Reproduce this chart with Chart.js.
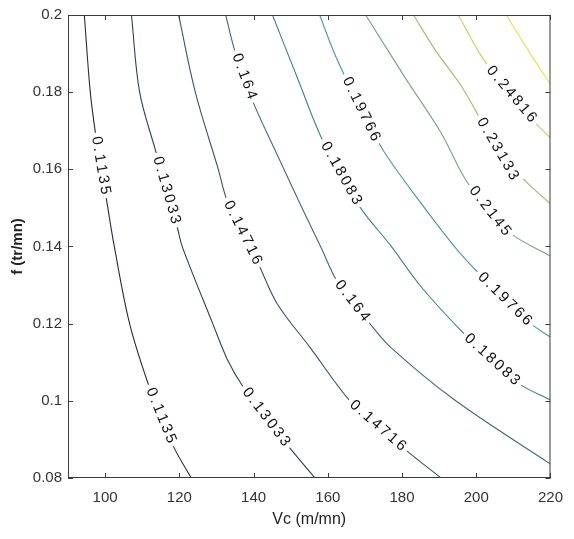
<!DOCTYPE html>
<html>
<head>
<meta charset="utf-8">
<title>Contour Vc - f</title>
<script src="https://cdn.jsdelivr.net/npm/chart.js"></script>
<style>
    html, body { margin: 0; padding: 0; background: #fff; }
</style>
</head>
<body>
<canvas id="contourChart" width="574" height="539"></canvas>
<script>
// contour levels (one line each)
const levels = [0.1135, 0.13033, 0.14716, 0.164, 0.18083, 0.19766, 0.2145, 0.23133, 0.24816, 0.265];

// points: Vc (m/mn)
const contourVc = [
    [94.4, 96.0, 97.4, 98.85, 100.3, 102.4, 106.6, 111.6, 115.05, 118.5, 123.2],
    [107.1, 109.3, 113.7, 116.6, 119.5, 120.8, 129.0, 133.0, 137.2, 143.4, 149.6, 156.5],
    [119.8, 124.3, 130.4, 133.0, 137.1, 141.2, 146.4, 155.1, 166.2, 173.5, 180.7, 190.5],
    [132.5, 134.8, 137.5, 140.1, 146.4, 152.8, 158.3, 162.3, 166.6, 171.0, 176.8, 194.2, 220],
    [145.1, 152.0, 158.3, 163.6, 168.8, 176.8, 185.2, 197.1, 204.3, 211.6, 220],
    [157.8, 162.3, 169.0, 175.0, 184.5, 194.2, 200.8, 207.7, 214.7, 220],
    [170.2, 181.0, 190.5, 197.0, 203.7, 209.5, 220],
    [183.1, 189.1, 196.3, 205.8, 212.4, 220],
    [195.2, 200.5, 204.2, 209.5, 215.5, 220],
    [208.1, 214.2, 220]
];
// same points: f (tr/mn)
const contourF = [
    [0.2, 0.18, 0.1694, 0.161, 0.1526, 0.1404, 0.12, 0.1044, 0.0962, 0.088, 0.08],
    [0.2, 0.18, 0.1645, 0.1546, 0.1448, 0.1399, 0.12, 0.1106, 0.1036, 0.0958, 0.088, 0.08],
    [0.2, 0.18, 0.1603, 0.1515, 0.1436, 0.1357, 0.1251, 0.114, 0.0997, 0.0936, 0.0875, 0.08],
    [0.2, 0.1912, 0.1841, 0.1769, 0.1637, 0.1505, 0.1395, 0.1313, 0.1259, 0.1204, 0.114, 0.1002, 0.0836],
    [0.2, 0.1832, 0.1681, 0.159, 0.15, 0.1404, 0.1295, 0.117, 0.1107, 0.1044, 0.1002],
    [0.2, 0.1889, 0.1756, 0.1648, 0.152, 0.1399, 0.1329, 0.1264, 0.12, 0.1165],
    [0.2, 0.1835, 0.1695, 0.1575, 0.1492, 0.1432, 0.1375],
    [0.2, 0.1907, 0.1811, 0.1653, 0.1578, 0.151],
    [0.2, 0.1907, 0.1855, 0.1795, 0.1725, 0.1681],
    [0.2, 0.1905, 0.182]
];

// inline labels: which line, and where
const labelLine = [0, 0, 1, 1, 2, 2, 3, 3, 4, 4, 5, 5, 6, 7, 8];
const labelVc = [98.85, 115.05, 116.6, 143.4, 137.1, 173.5, 137.5, 166.6, 163.6, 204.3, 169.0, 207.7, 203.7, 205.8, 209.5];
const labelF = [0.161, 0.0962, 0.1546, 0.0958, 0.1436, 0.0936, 0.1841, 0.1259, 0.159, 0.1107, 0.1756, 0.1264, 0.1492, 0.1653, 0.1795];

const xTicks = [100, 120, 140, 160, 180, 200, 220];
const yTicks = [0.08, 0.1, 0.12, 0.14, 0.16, 0.18, 0.2];
const yTickLabels = ['0.08', '0.1', '0.12', '0.14', '0.16', '0.18', '0.2'];

// line colours, dark blue -> yellow
const lineColors = ['#262a40', '#323c56', '#3a5264', '#3e6a7a', '#3b828c', '#4699a0', '#76a48a', '#a6b66a', '#d0ca5a', '#ecdd44'];

const FONT = '"Liberation Sans", Arial, Helvetica, sans-serif';
const labelSpacing = 2.5;

// contour labels with white background, drawn along the line
const contourLabels = {
    id: 'contourLabels',
    afterDatasetsDraw(chart) {
        const ctx = chart.ctx;
        const xs = chart.scales.x, ys = chart.scales.y;
        ctx.save();
        ctx.font = '15px ' + FONT;
        labelLine.forEach((li, k) => {
            const px = xs.getPixelForValue(labelVc[k]);
            const py = ys.getPixelForValue(labelF[k]);
            const pts = contourVc[li].map((v, i) => [xs.getPixelForValue(v), ys.getPixelForValue(contourF[li][i])]);
            // direction of the nearest segment
            let best = Infinity, ang = 0;
            for (let i = 0; i < pts.length - 1; i++) {
                const [x1, y1] = pts[i], [x2, y2] = pts[i + 1];
                const dx = x2 - x1, dy = y2 - y1;
                const t = Math.max(0, Math.min(1, ((px - x1) * dx + (py - y1) * dy) / (dx * dx + dy * dy)));
                const d = Math.hypot(x1 + t * dx - px, y1 + t * dy - py);
                if (d < best) { best = d; ang = Math.atan2(dy, dx); }
            }
            if (ang > Math.PI / 2) ang -= Math.PI;
            if (ang < -Math.PI / 2) ang += Math.PI;

            const chars = String(levels[li]).split('');
            const w = chars.map(c => ctx.measureText(c).width);
            const total = w.reduce((a, b) => a + b, 0) + labelSpacing * (chars.length - 1);
            ctx.save();
            ctx.translate(px, py);
            ctx.rotate(ang);
            ctx.fillStyle = '#fff';
            ctx.fillRect(-total / 2 - 4, -8.5, total + 8, 17);
            ctx.fillStyle = '#111';
            ctx.textBaseline = 'middle';
            ctx.textAlign = 'left';
            let cx = -total / 2;
            chars.forEach((c, i) => { ctx.fillText(c, cx, 0); cx += w[i] + labelSpacing; });
            ctx.restore();
        });
        ctx.restore();
    }
};

// box with inward ticks on all four sides
const axesBox = {
    id: 'axesBox',
    afterDraw(chart) {
        const {ctx, chartArea: a} = chart;
        const xs = chart.scales.x, ys = chart.scales.y;
        ctx.save();
        ctx.strokeStyle = '#3a3a3a';
        ctx.lineWidth = 1;
        ctx.strokeRect(a.left + 0.5, a.top + 0.5, a.right - a.left - 1, a.bottom - a.top - 1);
        ctx.beginPath();
        xTicks.forEach(v => {
            const p = Math.round(xs.getPixelForValue(v)) + 0.5;
            ctx.moveTo(p, a.bottom); ctx.lineTo(p, a.bottom - 5);
            ctx.moveTo(p, a.top); ctx.lineTo(p, a.top + 5);
        });
        yTicks.forEach(v => {
            const p = Math.round(ys.getPixelForValue(v)) + 0.5;
            ctx.moveTo(a.left, p); ctx.lineTo(a.left + 5, p);
            ctx.moveTo(a.right, p); ctx.lineTo(a.right - 5, p);
        });
        ctx.stroke();
        ctx.restore();
    }
};

const datasets = levels.map((lv, i) => ({
    label: String(lv),
    data: contourVc[i].map((v, j) => ({ x: v, y: contourF[i][j] })),
    borderColor: lineColors[i],
    borderWidth: 1.1,
    pointRadius: 0,
    showLine: true,
    tension: 0.35,
    fill: false
}));

new Chart(document.getElementById('contourChart').getContext('2d'), {
    type: 'scatter',
    data: { datasets: datasets },
    options: {
        responsive: false,
        animation: false,
        layout: { padding: { left: 0, top: 14, right: 13, bottom: 0 } },
        plugins: {
            legend: { display: false },
            tooltip: { enabled: false }
        },
        scales: {
            x: {
                type: 'linear',
                min: 90,
                max: 220,
                grid: { display: false, drawTicks: false },
                border: { display: false },
                afterBuildTicks: s => { s.ticks = xTicks.map(v => ({ value: v })); },
                afterFit: s => { s.height = 61; },
                ticks: {
                    padding: 11,
                    color: '#333',
                    font: { family: FONT, size: 15 },
                    maxRotation: 0
                },
                title: {
                    display: true,
                    text: 'Vc (m/mn)',
                    color: '#222',
                    font: { family: FONT, size: 16 },
                    padding: { top: 0, bottom: 10 }
                }
            },
            y: {
                type: 'linear',
                min: 0.08,
                max: 0.2,
                grid: { display: false, drawTicks: false },
                border: { display: false },
                afterBuildTicks: s => { s.ticks = yTicks.map(v => ({ value: v })); },
                afterFit: s => { s.width = 68; },
                ticks: {
                    padding: 6,
                    color: '#333',
                    font: { family: FONT, size: 15 },
                    callback: (v, i) => yTickLabels[i]
                },
                title: {
                    display: true,
                    text: 'f (tr/mn)',
                    color: '#222',
                    font: { family: FONT, size: 15, weight: 'bold' },
                    padding: { top: 9, bottom: 0 }
                }
            }
        }
    },
    plugins: [contourLabels, axesBox]
});
</script>
</body>
</html>
